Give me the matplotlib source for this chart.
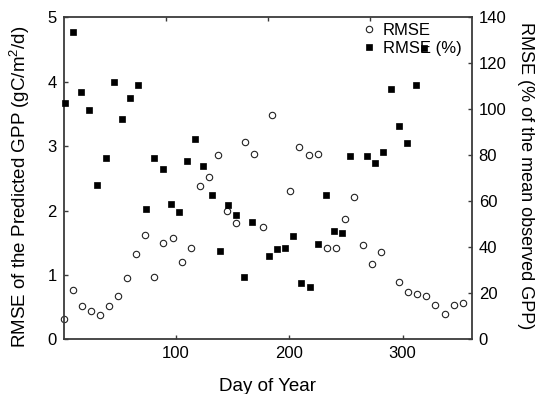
import numpy as np
import matplotlib
matplotlib.use("Agg")
import matplotlib.pyplot as plt

plt.rcParams['font.family'] = ['Liberation Sans', 'DejaVu Sans']
plt.rcParams['mathtext.fontset'] = 'custom'
plt.rcParams['mathtext.rm'] = 'Liberation Sans'
plt.rcParams['mathtext.it'] = 'Liberation Sans'

nan = np.nan
# 8-day periods
day_of_year = [1, 9, 17, 25, 33, 41, 49, 57, 65, 73, 81, 89, 97, 105, 113, 121,
               129, 137, 145, 153, 161, 169, 177, 185, 193, 201, 209, 217, 225,
               233, 241, 249, 257, 265, 273, 281, 289, 297, 305, 313, 321, 329,
               337, 345, 353, 361]
rmse_gpp = [0.32, 0.77, 0.52, 0.44, 0.37, 0.52, 0.67, 0.95, 1.32, 1.62, 0.97,
            1.50, 1.57, 1.20, 1.42, 2.38, 2.52, 2.86, 1.99, 1.80, 3.06, 2.88,
            1.75, 3.49, nan, 2.30, 2.99, 2.86, 2.88, 1.42, 1.42, 1.87, 2.21,
            1.47, 1.17, 1.35, nan, 0.89, 0.74, 0.71, 0.67, 0.54, 0.39, 0.54,
            0.56, nan]
rmse_pct = [102.9, 133.7, 107.7, 99.8, 67.0, 78.8, 112.0, 95.8, 104.9, 110.4,
            56.8, 78.8, 73.9, 59.0, 55.3, 77.4, 87.3, 75.3, 62.6, 38.5, 58.4,
            54.1, 27.2, 51.1, nan, 36.4, 39.3, 39.8, 44.8, 24.3, 22.9, 41.3,
            62.6, 47.0, 46.2, 79.6, nan, 79.6, 76.7, 81.6, 109.0, 92.9, 85.2,
            110.4, 126.5, nan]

left_ticks = [0, 1, 2, 3, 4, 5]
right_ticks = [0, 20, 40, 60, 80, 100, 120, 140]
x_ticks = [100, 200, 300]

W, H = 545, 394
fig = plt.figure(figsize=(W / 100, H / 100), dpi=100)
L, R, T, B = 63.7, 471.7, 17.3, 339.3
pos = [L / W, 1 - B / H, (R - L) / W, (B - T) / H]

axcol = '#3a3a3a'
ax = fig.add_axes(pos)
ax2 = fig.add_axes(pos, facecolor='none')

h1, = ax.plot(day_of_year, rmse_gpp, linestyle='none', marker='o', ms=4.6,
              mfc='white', mec='#222222', mew=0.8, clip_on=False, label='RMSE')
h2, = ax2.plot(day_of_year, rmse_pct, linestyle='none', marker='s', ms=4.2,
               mfc='black', mec='black', mew=0.5, clip_on=False, label='RMSE (%)')

ax.set_xlim(1, 361)
ax.set_ylim(0, 5)
ax.set_xticks(x_ticks)
ax.set_yticks(left_ticks)
ax.tick_params(direction='in', length=3, width=1.0, color=axcol, labelsize=12,
               pad=5, top=False, right=False)
for s in ax.spines.values():
    s.set_color(axcol)
    s.set_linewidth(1.3)
ax.set_xlabel('Day of Year', fontsize=13.5, va='top')
ax.xaxis.set_label_coords(0.5, -0.121)
ax.set_ylabel('RMSE of the Predicted GPP (gC/m$^2$/d)', fontsize=13.5)
ax.yaxis.set_label_coords(-0.078, 0.474)

ax2.set_xlim(0, 400)
ax2.set_ylim(0, 140)
ax2.xaxis.tick_top()
ax2.yaxis.tick_right()
ax2.yaxis.set_label_position('right')
ax2.set_xticks(x_ticks)
ax2.set_xticklabels([])
ax2.set_yticks(right_ticks)
ax2.tick_params(direction='in', length=3, width=1.0, color=axcol, labelsize=12,
                pad=5)
for s in ax2.spines.values():
    s.set_visible(False)
ax2.set_ylabel('RMSE (% of the mean observed GPP)', fontsize=13, rotation=270,
               va='bottom')
ax2.yaxis.set_label_coords(1.112, 0.507)

ax2.legend([h1, h2], ['RMSE', 'RMSE (%)'], loc='upper left',
           bbox_to_anchor=(362 / W, 1 - 23 / H), bbox_transform=fig.transFigure,
           frameon=False, fontsize=12, handlelength=0.8, handletextpad=0.45,
           labelspacing=0.15, borderpad=0, borderaxespad=0, numpoints=1)

fig.savefig('out.png', dpi=100)
